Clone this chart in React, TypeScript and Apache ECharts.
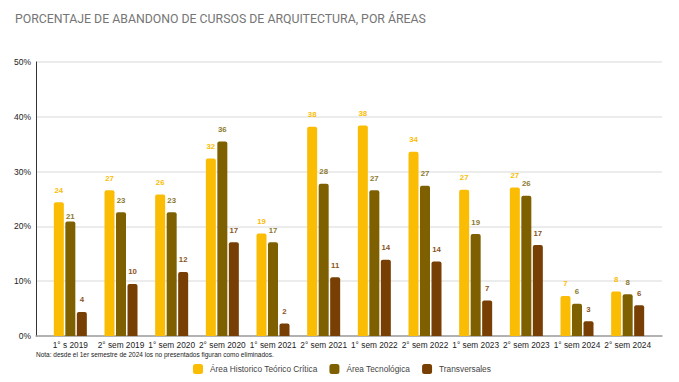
import React, { useEffect, useRef } from "react";
import * as echarts from "echarts";

const categories = [
  "1° s 2019", "2° sem 2019", "1° sem 2020", "2° sem 2020", "1° sem 2021", "2° sem 2021",
  "1° sem 2022", "2° sem 2022", "1° sem 2023", "2° sem 2023", "1° sem 2024", "2° sem 2024",
];
const historico = [24.4, 26.6, 25.8, 32.4, 18.7, 38.2, 38.4, 33.6, 26.7, 27.1, 7.3, 8.1];
const tecnologica = [20.9, 22.6, 22.6, 35.5, 17.1, 27.8, 26.6, 27.4, 18.6, 25.6, 5.9, 7.6];
const transversales = [4.4, 9.5, 11.7, 17.1, 2.3, 10.7, 13.9, 13.6, 6.5, 16.6, 2.7, 5.6];
const seriesNames = ["Área Historico Teórico Crítica", "Área Tecnológica", "Transversales"];
const yTicks = [0, 10, 20, 30, 40, 50];

const FONT = "Arial, 'Liberation Sans', sans-serif";

export default function App() {
  const ref = useRef<HTMLDivElement>(null);
  useEffect(() => {
    document.body.style.margin = "0";
    if (!ref.current) return;
    const chart = echarts.init(ref.current, null, { renderer: "svg" });
    const colors = ["#fbbc04", "#7f6000", "#783f04"];
    const labelColors = ["#fbbc04", "#8c7a30", "#8a5524"];
    const datas = [historico, tecnologica, transversales];
    const series = datas.map((d, i) => ({
      name: seriesNames[i],
      type: "bar",
      xAxisIndex: 1,
      yAxisIndex: 1,
      barWidth: 10,
      barGap: "15%",
      itemStyle: { color: colors[i], borderRadius: [2, 2, 0, 0] },
      label: {
        show: true,
        position: "top",
        distance: 8,
        fontSize: 7.8,
        fontWeight: "bold",
        fontFamily: FONT,
        color: labelColors[i],
        formatter: (p: any) => String(Math.round(p.value)),
      },
      data: d.map((v, j) => (i === 1 && j === 0 ? { value: v, label: { distance: 1 } } : v)),
    }));
    chart.setOption({
      animation: false,
      title: {
        text: "PORCENTAJE DE ABANDONO DE CURSOS DE ARQUITECTURA, POR ÁREAS",
        left: 15,
        top: 13,
        padding: 0,
        textStyle: { color: "#757575", fontSize: 12.3, fontWeight: "normal", fontFamily: "Roboto, sans-serif" },
      },
      grid: [
        { left: 36, right: 17, top: 62, bottom: 46 },
        { left: 45, right: 26, top: 62, bottom: 46 },
      ],
      xAxis: [
        {
          gridIndex: 0, type: "value", min: 0, max: 1,
          axisLabel: { show: false }, axisTick: { show: false }, splitLine: { show: false },
          axisLine: { show: true, lineStyle: { color: "#9e9e9e", width: 1.5 } },
        },
        {
          gridIndex: 1, type: "category", data: categories,
          axisLine: { show: false }, axisTick: { show: false },
          axisLabel: { color: "#222", fontSize: 8.3, fontFamily: FONT, margin: 5, interval: 0 },
        },
      ],
      yAxis: [
        {
          gridIndex: 0, type: "value", min: yTicks[0], max: yTicks[yTicks.length - 1], interval: 10,
          axisLabel: { formatter: "{value}%", color: "#222", fontSize: 8.5, fontFamily: FONT, margin: 5 },
          axisLine: { show: true, lineStyle: { color: "#333", width: 1 } },
          axisTick: { show: false },
          splitLine: { lineStyle: { color: "#e6e6e6", width: 1.5 } },
        },
        { gridIndex: 1, type: "value", min: 0, max: 50, show: false },
      ],
      legend: {
        top: 364,
        left: 193,
        padding: 0,
        itemWidth: 10,
        itemHeight: 10,
        itemGap: 12,
        icon: "roundRect",
        textStyle: { color: "#444", fontSize: 8.3, fontFamily: FONT, padding: [0, 0, 0, 2] },
        data: seriesNames,
      },
      graphic: [
        {
          type: "text",
          left: 36,
          top: 351,
          style: {
            text: "Nota: desde el 1er semestre de 2024 los no presentados figuran como eliminados.",
            fill: "#222",
            fontSize: 6.5,
            fontFamily: FONT,
          },
        },
      ],
      series,
    });
    return () => chart.dispose();
  }, []);
  return <div ref={ref} style={{ width: 679, height: 382 }} />;
}
